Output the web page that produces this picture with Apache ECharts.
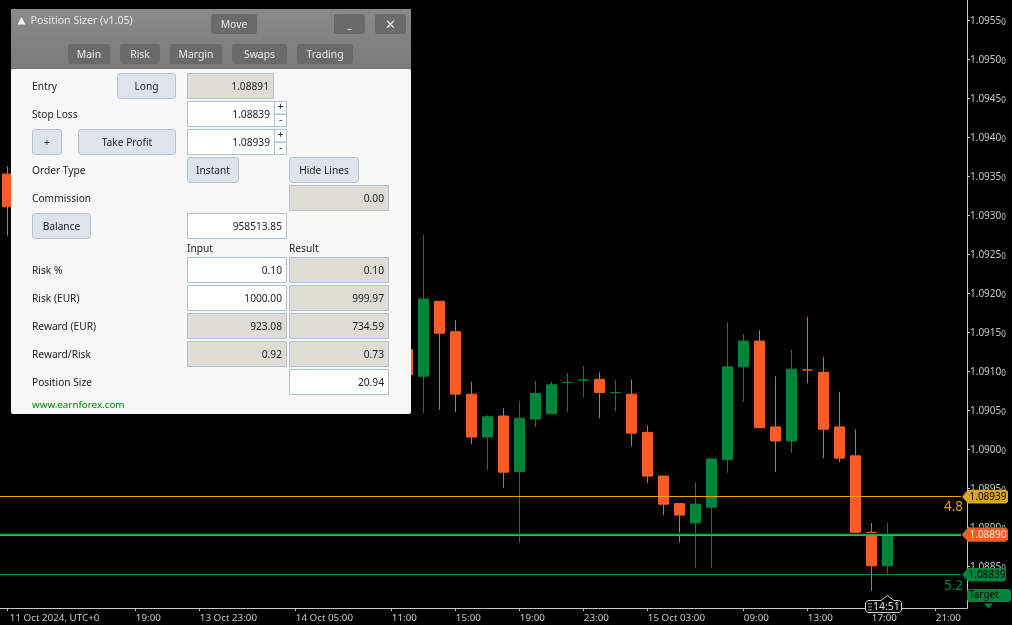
<!DOCTYPE html>
<html>
<head>
<meta charset="utf-8">
<style>html,body{margin:0;padding:0;background:#000}#c{width:1012px;height:625px}</style>
<script src="https://cdn.jsdelivr.net/npm/echarts@6/dist/echarts.min.js"></script>
</head>
<body>
<div id="c"></div>
<script>
// Visible hourly candles; those hidden behind the panel are not listed.
const barIndex = [0,25,26,27,28,29,30,31,32,33,34,35,36,37,38,39,40,41,42,43,44,45,46,47,48,49,50,51,52,53,54,55];
const opens  = [1.09353,1.09128,1.09094,1.09190,1.09151,1.09071,1.09016,1.09043,1.08972,1.09039,1.09046,1.09086,1.09089,1.09090,1.09073,1.09071,1.09022,1.08966,1.08931,1.08906,1.08926,1.08987,1.09106,1.09139,1.09029,1.09011,1.09102,1.09099,1.09029,1.08992,1.08894,1.08851];
const closes = [1.09311,1.09096,1.09193,1.09149,1.09071,1.09016,1.09042,1.08971,1.09040,1.09072,1.09083,1.09086,1.09089,1.09073,1.09073,1.09021,1.08966,1.08930,1.08916,1.08930,1.08988,1.09106,1.09139,1.09028,1.09011,1.09103,1.09102,1.09026,1.08989,1.08894,1.08851,1.08890];
const lows   = [1.09274,1.09096,1.09047,1.09051,1.09048,1.09007,1.08974,1.08951,1.08881,1.09029,1.09046,1.09048,1.09067,1.09040,1.09049,1.09004,1.08957,1.08916,1.08881,1.08849,1.08849,1.08970,1.09061,1.09028,1.08971,1.08996,1.09085,1.08989,1.08984,1.08893,1.08819,1.08840];
const highs  = [1.09363,1.09128,1.09275,1.09190,1.09166,1.09087,1.09044,1.09053,1.09062,1.09088,1.09087,1.09098,1.09107,1.09099,1.09089,1.09090,1.09031,1.08966,1.08931,1.08958,1.08989,1.09163,1.09148,1.09153,1.09094,1.09128,1.09170,1.09119,1.09074,1.09026,1.08906,1.08906];

const timeTickIndex = [0,8,12,18,24,28,32,36,40,46,50,54,58];
const timeTickLabels = ['11 Oct 2024, UTC+0','19:00','13 Oct 23:00','14 Oct 05:00','11:00','15:00','19:00','23:00','15 Oct 03:00','09:00','13:00','17:00','21:00'];
const priceTicks = [1.0885,1.0890,1.0895,1.0900,1.0905,1.0910,1.0915,1.0920,1.0925,1.0930,1.0935,1.0940,1.0945,1.0950,1.0955];

const levelPrices = [1.08939,1.08892,1.08891,1.08890,1.08839];
const tagPrices = [1.08939,1.08891,1.08890,1.08839];
const tagLabels = ['1.08939','','1.08890','1.08839'];

const pipLabels = ['4.8','5.2'];
const clockLabel = '14:51';
const targetLabel = 'Target';

const panelTitle = 'Position Sizer (v1.05)';
const panelTabs = ['Main','Risk','Margin','Swaps','Trading'];
const rowLabels = ['Entry','Stop Loss','Order Type','Commission','Risk %','Risk (EUR)','Reward (EUR)','Reward/Risk','Position Size'];
const entryValues = ['1.08891','1.08839','1.08939'];
const commissionValue = '0.00';
const balanceValue = '958513.85';
const riskInputs = ['0.10','1000.00','923.08','0.92'];
const riskResults = ['0.10','999.97','734.59','0.73'];
const positionSize = '20.94';
const siteLabel = 'www.earnforex.com';

const ORANGE='#F55D24', GREEN='#00843C', GOLD='#DAA520', BLUE='#0000C8', AXIS='#C8C8C8';
const levelColors=[ '#E8A317',BLUE,'#1E9E50',ORANGE,GREEN ];
const tagColors=[GOLD,GREEN,ORANGE,GREEN];
const tagText=['#000','#000','#FFE8DC','#000'];
const UI='"Noto Sans",sans-serif', AX='"Noto Sans",sans-serif';

const candles = barIndex.map((k,i)=>[k,opens[i],closes[i],lows[i],highs[i]]);

// panel
const g=[]; const Z=50;
function rect(x,y,w,h,fill,stroke,r){g.push({type:'rect',z:Z,silent:true,shape:{x:x+(stroke?0.5:0),y:y+(stroke?0.5:0),width:w-(stroke?1:0),height:h-(stroke?1:0),r:r||0},style:{fill:fill,stroke:stroke||null,lineWidth:stroke?1:0}});}
function text(x,y,t,opt){opt=opt||{};g.push({type:'text',z:Z+1,silent:true,style:{x:x,y:y+1,text:t,fill:opt.fill||'#1c1c1c',font:(opt.size||10.2)+'px '+UI,align:opt.align||'left',verticalAlign:'middle'}});}
const BS='#AFC2D3',BF='#DEE3EC',GF='#DDDDD5';
function btn(x,y,w,h,t){rect(x,y,w,h,BF,BS,3);text(x+w/2,y+h/2,t,{align:'center'});}
function field(x,y,w,h,t,grey){rect(x,y,w,h,grey?GF:'#FFFFFF',BS);text(x+w-5,y+h/2,t,{align:'right'});}
function spin(x,y){rect(x,y,13,13.5,'#FFFFFF',BS);rect(x,y+13,13,13,'#FFFFFF',BS);text(x+6.5,y+5.5,'+',{align:'center',size:10});text(x+6.5,y+18.5,'-',{align:'center',size:10});}
function dark(x,y,w,h,t,s){rect(x,y,w,h,'#6A6A6A',null,3);text(x+w/2,y+h/2,t,{align:'center',fill:'#E8E8E8',size:s||10.4});}

rect(11,9,400,405,'#F7F7F7',null,2);
g.push({type:'rect',z:Z,silent:true,shape:{x:11,y:9,width:400,height:61,r:[2,2,0,0]},style:{fill:new echarts.graphic.LinearGradient(0,0,0,1,[{offset:0,color:'#8A8A8A'},{offset:1,color:'#7A7A7A'}])}});
g.push({type:'rect',z:Z,silent:true,shape:{x:11,y:69,width:400,height:6,r:[2,2,0,0]},style:{fill:'#F7F7F7'}});
g.push({type:'polygon',z:Z+1,silent:true,shape:{points:[[21.5,17],[25.5,24.5],[17.5,24.5]]},style:{fill:'#F4F4F4'}});
text(30.5,20,panelTitle,{fill:'#E8E8E8',size:10.6});
dark(211,14,46,20,'Move');
dark(334,14,31,20,'_');
dark(375,14,31,20,'\u2715',13);
[[68,42],[120,40],[170,52],[232,55],[297,56]].forEach((b,i)=>dark(b[0],44,b[1],20,panelTabs[i]));

text(32,86,rowLabels[0]);
btn(117,73,59,26,'Long');
field(187,73,87,26,entryValues[0],true);
text(32,114,rowLabels[1]);
field(187,101,88,26,entryValues[1]);spin(274,101);
btn(32,129,30,26,'+');
btn(78,129,98,26,'Take Profit');
field(187,129,88,26,entryValues[2]);spin(274,129);
text(32,170,rowLabels[2]);
btn(187,157,52,26,'Instant');
btn(289,157,70,26,'Hide Lines');
text(32,198,rowLabels[3]);
field(289,185,100,26,commissionValue,true);
btn(32,213,59,26,'Balance');
field(187,213,100,26,balanceValue);
text(187,248,'Input');text(289,248,'Result');
[0,1,2,3].forEach(i=>{const y=257+28*i;text(32,y+13,rowLabels[4+i]);field(187,y,100,26,riskInputs[i],i>=2);field(289,y,100,26,riskResults[i],true);});
text(32,382,rowLabels[8]);
field(289,369,100,26,positionSize);
text(32,404,siteLabel,{fill:'#008000',size:9.8});

// right side annotations
function plain(x,y,t,fill,size,font,align){g.push({type:'text',z:Z+1,silent:true,style:{x:x,y:y,text:t,fill:fill,font:size+'px '+(font||AX),align:align||'center',verticalAlign:'middle'}});}
plain(953.5,507.5,pipLabels[0],'#D9A320',13.5);
plain(953.5,586.5,pipLabels[1],GREEN,13.5);
g.push({type:'rect',z:Z,silent:true,shape:{x:967,y:589,width:44,height:13,r:3},style:{fill:GREEN}});
plain(969,595.5,targetLabel,'#000',10,AX,'left');
g.push({type:'polygon',z:Z,silent:true,shape:{points:[[984,603.5],[993,603.5],[988.5,608.5]]},style:{fill:GREEN}});
g.push({type:'polygon',z:Z,silent:true,shape:{points:[[868,600.5],[881,600.5],[887.5,595.5],[894,600.5],[899.5,600.5],[901.5,602.5],[901.5,610.5],[899.5,612.5],[868,612.5],[865.5,610.5],[865.5,602.5]]},style:{fill:'#000',stroke:'#D0D0D0',lineWidth:1}});
[0,1,2].forEach(i=>{[868.5,870.5].forEach(x=>g.push({type:'rect',z:Z+1,silent:true,shape:{x:x,y:603+i*3,width:1,height:1.5},style:{fill:'#E0E0E0'}}));});
plain(873,607,clockLabel,'#E0E0E0',10.5,AX,'left');

const tagW=[46,45,46,44];
function renderLevel(params,api){
  const cs=params.coordSys;
  const y=Math.floor(api.coord([0,api.value(1)])[1]-0.3);
  return {type:'rect',silent:true,shape:{x:cs.x,y:y,width:cs.width-6,height:1},style:{fill:levelColors[params.dataIndex],stroke:null}};
}
function renderTag(params,api){
  const i=params.dataIndex, cs=params.coordSys;
  const yc=api.coord([0,api.value(1)])[1]-0.5;
  const x0=cs.x+cs.width-5, x1=x0+tagW[i], t=yc-6.8, b=yc+6.8;
  const xs=x0+6;
  return {type:'group',silent:true,children:[
    {type:'polygon',shape:{points:[[x0,yc],[xs,t],[x1-2,t],[x1,t+2],[x1,b-2],[x1-2,b],[xs,b]]},style:{fill:tagColors[i]}},
    {type:'text',style:{x:(x0+x1)/2+3,y:yc+0.5,text:tagLabels[i],fill:tagText[i],font:'10px '+AX,align:'center',verticalAlign:'middle'}}
  ]};
}

const chart=echarts.init(document.getElementById('c'),null,{renderer:'canvas'});
chart.setOption({
  animation:false,
  backgroundColor:'#000',
  grid:{left:0,top:0,width:967,height:608,containLabel:false},
  xAxis:{type:'value',min:-0.456,max:59.981,position:'bottom',
    splitLine:{show:false},
    axisLine:{show:true,onZero:false,lineStyle:{color:AXIS,width:1}},
    axisTick:{show:true,length:3,inside:false,lineStyle:{color:AXIS},customValues:timeTickIndex},
    axisLabel:{show:true,color:AXIS,fontFamily:AX,fontSize:9.8,margin:5,align:'left',padding:[0,0,0,0.5],hideOverlap:false,
      customValues:timeTickIndex,
      formatter:v=>{const i=timeTickIndex.indexOf(v);const s=i<0?'':timeTickLabels[i];return i===0?'{f|'+s+'}':s;},
      rich:{f:{padding:[0,0,0,2],color:AXIS,fontFamily:AX,fontSize:9.8}}}
  },
  yAxis:{type:'value',min:1.08797,max:1.09576,position:'right',scale:true,
    splitLine:{show:false},
    axisLine:{show:true,onZero:false,lineStyle:{color:AXIS,width:1}},
    axisTick:{show:true,length:3,lineStyle:{color:AXIS},customValues:priceTicks},
    axisLabel:{show:true,margin:3,align:'left',padding:[2,0,0,0],customValues:priceTicks,
      formatter:v=>'{m|'+v.toFixed(4)+'}{s|0}',
      rich:{m:{color:AXIS,fontFamily:AX,fontSize:10},s:{color:AXIS,fontFamily:AX,fontSize:8,padding:[3,0,0,0]}}}
  },
  graphic:{elements:g},
  series:[
    {type:'candlestick',data:candles,encode:{x:0,y:[1,2,3,4]},barWidth:10,
     itemStyle:{color:GREEN,color0:ORANGE,borderColor:GREEN,borderColor0:ORANGE,borderWidth:1},silent:true,z:2},
    {type:'custom',data:levelPrices.map(v=>[0,v]),encode:{x:0,y:1},renderItem:renderLevel,z:3,silent:true},
    {type:'custom',data:tagPrices.map(v=>[0,v]),encode:{x:0,y:1},renderItem:renderTag,z:4,silent:true}
  ]
});
</script>
</body>
</html>
